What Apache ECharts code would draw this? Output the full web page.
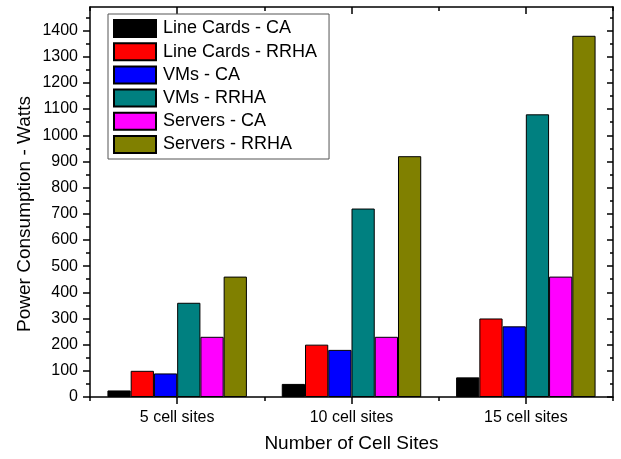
<!DOCTYPE html>
<html>
<head>
<meta charset="utf-8">
<script src="https://cdn.jsdelivr.net/npm/echarts@6/dist/echarts.min.js"></script>
<style>
html,body{margin:0;padding:0;background:#fff;}
#chart{width:621px;height:459px;}
</style>
</head>
<body>
<div id="chart"></div>
<script>
const categories = ['5 cell sites', '10 cell sites', '15 cell sites'];
const seriesNames = ['Line Cards - CA', 'Line Cards - RRHA', 'VMs - CA', 'VMs - RRHA', 'Servers - CA', 'Servers - RRHA'];
const lineCardsCA = [25, 50, 75];
const lineCardsRRHA = [100, 200, 300];
const vmsCA = [90, 180, 270];
const vmsRRHA = [360, 720, 1080];
const serversCA = [230, 230, 460];
const serversRRHA = [460, 920, 1380];
const majorTicks = [0, 100, 200, 300, 400, 500, 600, 700, 800, 900, 1000, 1100, 1200, 1300, 1400];
const minorTicks = [50, 150, 250, 350, 450, 550, 650, 750, 850, 950, 1050, 1150, 1250, 1350, 1450];
const colors = ['#000000', '#ff0000', '#0000ff', '#008080', '#ff00ff', '#808000'];

const allValues = [lineCardsCA, lineCardsRRHA, vmsCA, vmsRRHA, serversCA, serversRRHA];
const FONT = '"Liberation Sans", Arial, sans-serif';
const yMax = 1490;

const chart = echarts.init(document.getElementById('chart'), null, {renderer: 'canvas'});

const lineStyle = {color: '#000', width: 1.5};
function xAx(pos, showLine, aligned, inside, len, extra) {
  return Object.assign({
    type: 'category', data: categories, position: pos, gridIndex: 0,
    axisLine: {show: showLine, onZero: false, lineStyle: lineStyle},
    axisTick: {show: true, alignWithLabel: aligned, inside: inside, length: len, lineStyle: {color: '#000', width: 1.5}},
    axisLabel: {show: false},
    splitLine: {show: false}
  }, extra || {});
}
function yAx(pos, showLine, ticks, inside, len, extra) {
  return Object.assign({
    type: 'value', min: 0, max: yMax, interval: 100, position: pos, gridIndex: 0,
    axisLine: {show: showLine, onZero: false, lineStyle: lineStyle},
    axisTick: {show: true, inside: inside, length: len, customValues: ticks, lineStyle: {color: '#000', width: 1.5}},
    axisLabel: {show: false},
    splitLine: {show: false}
  }, extra || {});
}

const option = {
  animation: false,
  backgroundColor: '#fff',
  textStyle: {fontFamily: FONT},
  grid: {left: 90, right: 8, top: 7, bottom: 62, containLabel: false},
  legend: {
    orient: 'vertical', left: 108, top: 14,
    padding: [5, 12, 5, 5],
    itemWidth: 42, itemHeight: 17, itemGap: 4.2,
    icon: 'rect',
    borderColor: '#555', borderWidth: 1,
    backgroundColor: '#fff',
    textStyle: {fontFamily: FONT, fontSize: 18, color: '#000', padding: [0, 0, 0, 2]},
    data: seriesNames
  },
  xAxis: [
    xAx('bottom', true, true, false, 7, {
      axisLabel: {show: true, fontSize: 16, color: '#000', margin: 13, fontFamily: FONT},
      name: 'Number of Cell Sites', nameLocation: 'middle', nameGap: 47, nameMoveOverlap: false,
      nameTextStyle: {fontSize: 19, color: '#000', verticalAlign: 'middle', fontFamily: FONT}
    }),
    xAx('bottom', false, false, false, 4),
    xAx('top', true, true, true, 7),
    xAx('top', false, false, true, 4)
  ],
  yAxis: [
    yAx('left', true, majorTicks, false, 7, {
      axisLabel: {show: true, customValues: majorTicks, fontSize: 16, color: '#000', margin: 12, fontFamily: FONT,
        formatter: function (v) { return String(v); }},
      name: 'Power Consumption - Watts', nameLocation: 'middle', nameGap: 65, nameMoveOverlap: false,
      nameTextStyle: {fontSize: 19, color: '#000', verticalAlign: 'middle', fontFamily: FONT, padding: [0, 24, 0, 0]}
    }),
    yAx('left', false, minorTicks, false, 4),
    yAx('right', true, majorTicks, true, 6),
    yAx('right', false, minorTicks, true, 3)
  ],
  series: seriesNames.map((name, i) => ({
    name: name, type: 'bar', xAxisIndex: 0, yAxisIndex: 0,
    data: allValues[i],
    barGap: '0%', barCategoryGap: '20%',
    itemStyle: {color: colors[i], borderColor: '#000', borderWidth: 1}
  }))
};
chart.setOption(option);
</script>
</body>
</html>
